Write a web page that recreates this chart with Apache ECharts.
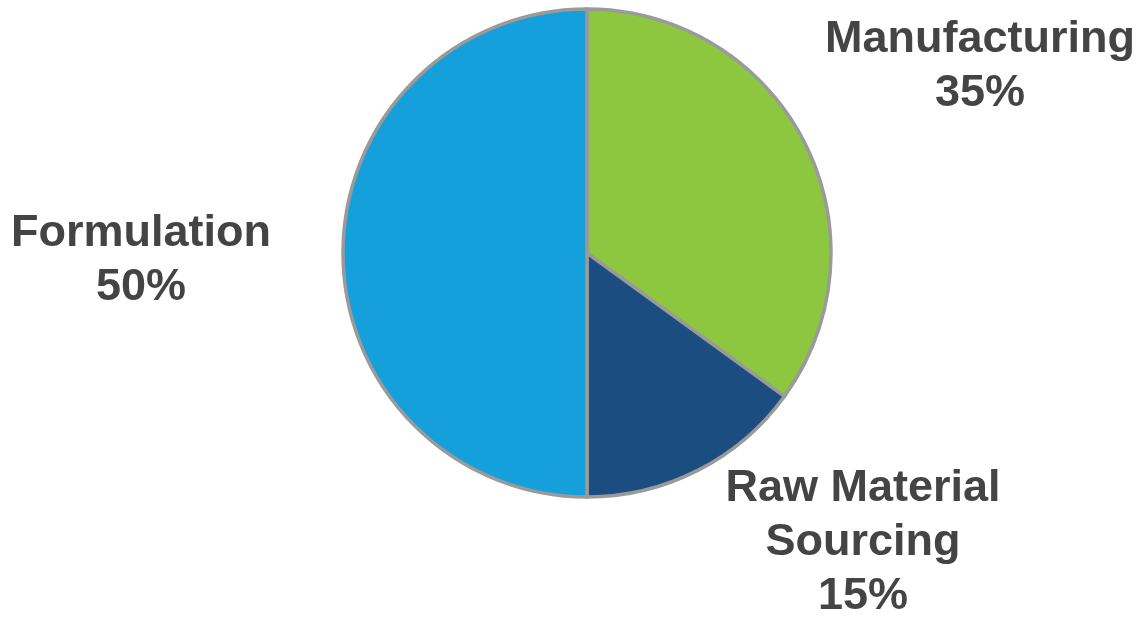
<!DOCTYPE html>
<html><head><meta charset="utf-8">
<script src="https://cdn.jsdelivr.net/npm/echarts@6/dist/echarts.min.js"></script>
<style>html,body{margin:0;padding:0;background:#fff}#c{width:1143px;height:617px}</style>
</head><body><div id="c"></div>
<script>
const categories = ["Manufacturing", "Raw Material\nSourcing", "Formulation"];
const values = [35, 15, 50];
const colors = ["#8DC63F", "#1C4D80", "#159FDB"];
// label centre positions (layout only)
const labelPos = [[980, 67], [863, 543], [141, 261]];

const chart = echarts.init(document.getElementById('c'), null, {renderer: 'canvas'});
chart.setOption({
  animation: false,
  series: [{
    type: 'pie',
    center: [587, 253],
    radius: [0, 244],
    startAngle: 90,
    clockwise: true,
    itemStyle: {borderColor: '#9A9A9A', borderWidth: 3.5},
    label: {
      show: true,
      position: 'outside',
      formatter: p => p.name + '\n' + p.value + '%',
      fontFamily: 'Liberation Sans, Arial, sans-serif',
      fontWeight: 'bold',
      fontSize: 45,
      lineHeight: 54,
      color: '#444444',
      align: 'center',
      overflow: 'none',
      width: 400
    },
    labelLine: {show: false},
    labelLayout: function (params) {
      const p = labelPos[params.dataIndex];
      return {x: p[0], y: p[1], align: 'center', verticalAlign: 'middle'};
    },
    data: categories.map((c, i) => ({name: c, value: values[i], itemStyle: {color: colors[i]}}))
  }]
});
</script></body></html>
